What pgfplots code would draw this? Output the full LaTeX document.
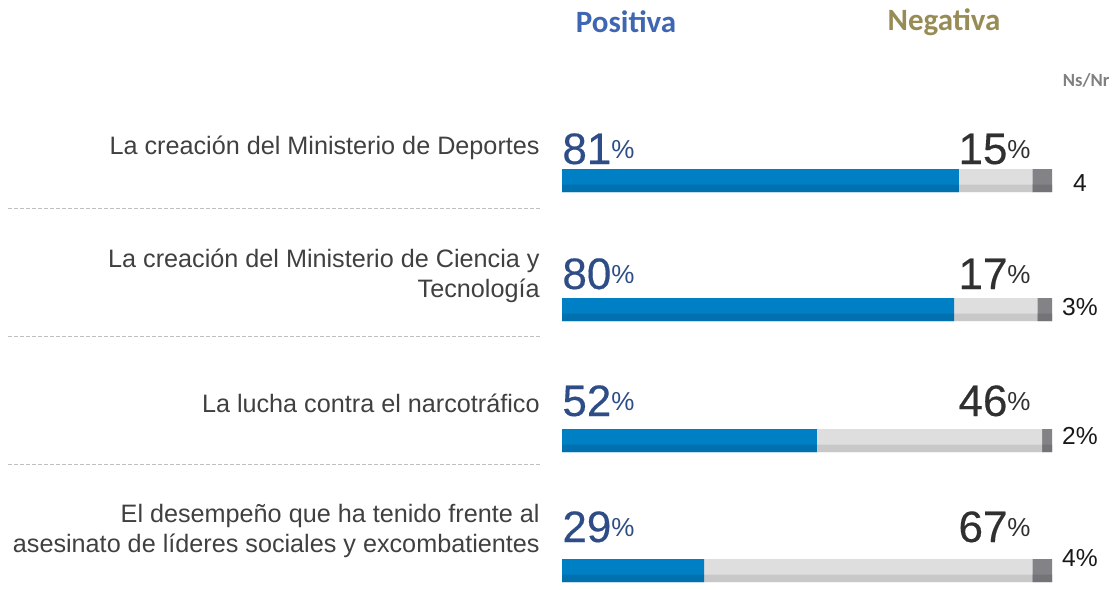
\documentclass[border=0pt]{standalone}
\usepackage{pgfplots}
\pgfplotsset{compat=1.18}
\usepackage{pgfplotstable}
\usepackage{fontspec}
\setmainfont{Liberation Sans}
\newfontfamily\carlito{Carlito}
\newfontfamily\numfont[FakeBold=0.35]{Liberation Sans}
\definecolor{blueA}{HTML}{0080C4}
\definecolor{blueB}{HTML}{0071AE}
\definecolor{greyA}{HTML}{DEDEDE}
\definecolor{greyB}{HTML}{C8C8C8}
\definecolor{darkA}{HTML}{838387}
\definecolor{darkB}{HTML}{747478}
\definecolor{posnum}{HTML}{2E4D87}
\definecolor{negnum}{HTML}{303030}
\definecolor{lab}{HTML}{404040}
\definecolor{poshead}{HTML}{3F66B2}
\definecolor{neghead}{HTML}{988C56}
\definecolor{nshead}{HTML}{808080}
\definecolor{sep}{HTML}{BFBFBF}

\pgfplotstableread{
y pos neg ns
180.5 81 15 4
309.5 80 17 3
440.5 52 46 2
570.5 29 67 4
}\data

\pgfplotsset{base/.style={scale only axis, width=556.5pt, height=294.5pt,
  xmin=-114.694, xmax=112.449, ymin=0, ymax=589, y dir=reverse,
  hide axis, clip=false}}

\newcommand\pnum[1]{#1\raisebox{2.6pt}{\rmfamily\fontsize{13}{13}\selectfont\%}}

\begin{document}
\begin{tikzpicture}
\begin{axis}[base, xbar stacked, bar width=23]
\addplot[fill=blueA, draw=none] table[x=pos,y=y]{\data};
\addplot[fill=greyA, draw=none] table[x=neg,y=y]{\data};
\addplot[fill=darkA, draw=none] table[x=ns,y=y]{\data};
\path (axis cs:-114.694,0) rectangle (axis cs:112.449,589);
\end{axis}
\begin{axis}[base, xbar stacked, bar width=7.5]
\addplot[fill=blueB, draw=none] table[x=pos,y expr=\thisrow{y}+7.75]{\data};
\addplot[fill=greyB, draw=none] table[x=neg,y expr=\thisrow{y}+7.75]{\data};
\addplot[fill=darkB, draw=none] table[x=ns,y expr=\thisrow{y}+7.75]{\data};

% headers
\node[text=poshead, font=\carlito\bfseries\fontsize{15.5}{15.5}\selectfont] at (axis cs:13.06,22) {Positiva};
\node[text=neghead, font=\carlito\bfseries\fontsize{15.5}{15.5}\selectfont] at (axis cs:77.96,22) {Negativa};
\node[anchor=east, inner sep=0, text=nshead, font=\carlito\bfseries\fontsize{9.3}{9.3}\selectfont] at (axis cs:111.8,80) {Ns/Nr};

% separators
\draw[sep, line width=0.5pt, dash pattern=on 2pt off 1pt] (axis cs:-113.06,208) -- (axis cs:-4.49,208);
\draw[sep, line width=0.5pt, dash pattern=on 2pt off 1pt] (axis cs:-113.06,336) -- (axis cs:-4.49,336);
\draw[sep, line width=0.5pt, dash pattern=on 2pt off 1pt] (axis cs:-113.06,464) -- (axis cs:-4.49,464);

% labels
\node[anchor=east, align=right, inner sep=0, text=lab, font=\fontsize{12.6}{15}\selectfont] at (axis cs:-4.49,148) {La creación del Ministerio de Deportes};
\node[anchor=east, align=right, inner sep=0, text=lab, font=\fontsize{12.6}{15}\selectfont] at (axis cs:-4.49,276) {La creación del Ministerio de Ciencia y\\Tecnología};
\node[anchor=east, align=right, inner sep=0, text=lab, font=\fontsize{12.6}{15}\selectfont] at (axis cs:-4.49,403) {La lucha contra el narcotráfico};
\node[anchor=east, align=right, inner sep=0, text=lab, font=\fontsize{12.6}{15}\selectfont] at (axis cs:-4.49,531) {El desempeño que ha tenido frente al\\asesinato de líderes sociales y excombatientes};

% positive numbers
\node[anchor=base west, inner sep=0, text=posnum, font=\numfont\fontsize{22}{22}\selectfont] at (axis cs:0,164) {\pnum{81}};
\node[anchor=base west, inner sep=0, text=posnum, font=\numfont\fontsize{22}{22}\selectfont] at (axis cs:0,289) {\pnum{80}};
\node[anchor=base west, inner sep=0, text=posnum, font=\numfont\fontsize{22}{22}\selectfont] at (axis cs:0,416) {\pnum{52}};
\node[anchor=base west, inner sep=0, text=posnum, font=\numfont\fontsize{22}{22}\selectfont] at (axis cs:0,542) {\pnum{29}};

% negative numbers
\node[anchor=base east, inner sep=0, text=negnum, font=\numfont\fontsize{22}{22}\selectfont] at (axis cs:95.71,164) {\pnum{15}};
\node[anchor=base east, inner sep=0, text=negnum, font=\numfont\fontsize{22}{22}\selectfont] at (axis cs:95.71,289) {\pnum{17}};
\node[anchor=base east, inner sep=0, text=negnum, font=\numfont\fontsize{22}{22}\selectfont] at (axis cs:95.71,416) {\pnum{46}};
\node[anchor=base east, inner sep=0, text=negnum, font=\numfont\fontsize{22}{22}\selectfont] at (axis cs:95.71,542) {\pnum{67}};

% ns/nr
\node[inner sep=0, text=black!90, font=\fontsize{12.3}{12}\selectfont] at (axis cs:105.7,183) {4};
\node[inner sep=0, text=black!90, font=\fontsize{12.3}{12}\selectfont] at (axis cs:105.7,307) {3\%};
\node[inner sep=0, text=black!90, font=\fontsize{12.3}{12}\selectfont] at (axis cs:105.7,436) {2\%};
\node[inner sep=0, text=black!90, font=\fontsize{12.3}{12}\selectfont] at (axis cs:105.7,558) {4\%};
\end{axis}
\end{tikzpicture}
\end{document}
